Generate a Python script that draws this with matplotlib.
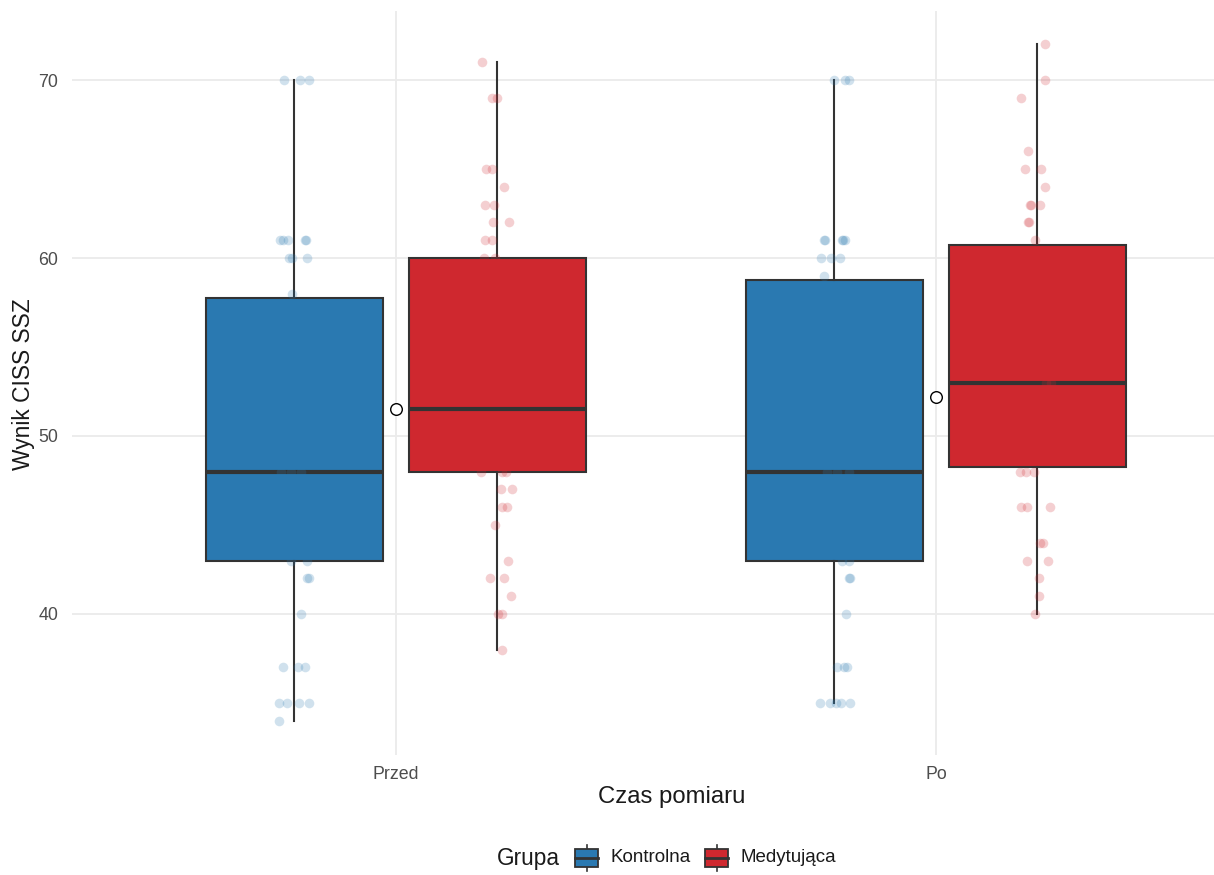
import matplotlib
matplotlib.use("Agg")
import matplotlib.pyplot as plt
from matplotlib.patches import Rectangle
from matplotlib.lines import Line2D

plt.rcParams['font.family'] = ['Liberation Sans', 'DejaVu Sans']

# ---- data ----
times = ["Przed", "Po"]
groups = ["Kontrolna", "Medytująca"]
colors = {"Kontrolna": "#2A79B1", "Medytująca": "#CF282F"}

# box statistics: (whislo, q1, median, q3, whishi)
box_stats = {
    ("Przed", "Kontrolna"): (34, 43, 48, 57.75, 70),
    ("Przed", "Medytująca"): (38, 48, 51.5, 60, 71),
    ("Po", "Kontrolna"): (35, 43, 48, 58.75, 70),
    ("Po", "Medytująca"): (40, 48.25, 53, 60.75, 72),
}
overall_means = [51.5, 52.2]

# jittered points: values and jitter offsets (px)
pts_przed_k = [70, 70, 70, 61, 61, 61, 61, 61, 60, 60, 60, 58, 48, 48, 48,
               43, 43, 42, 42, 40, 37, 37, 37, 35, 35, 35, 35, 34]
jit_przed_k = [-10.5, 5.5, 14.5, -14.5, -11.5, -6.5, 10.5, 11.5, -5.5, -2.5, 12.5, -2.5,
               -13.5, -3.5, 6.5, -3.5, 12.5, 12.5, 15, 7, -11.5, 4, 11, -15, -7, 4.5, 15, -15.5]

pts_przed_m = [71, 69, 69, 65, 65, 64, 63, 63, 62, 62, 61, 61, 60, 60,
               48, 48, 48, 47, 47, 46, 46, 45, 43, 42, 42, 41, 40, 40, 38]
jit_przed_m = [-15, -5.5, -0.5, -11, -5, 7, -12.5, -3, -4, 12, -12, -5, -13, -2,
               -16, 5, 8.5, 4, 15, 4.5, 10, -2.5, 11, -7, 7, 14, 1, 4.5, 5]

pts_po_k = [70, 70, 70, 61, 61, 61, 61, 61, 60, 60, 60, 59, 48, 48, 48,
            43, 43, 42, 42, 40, 37, 37, 37, 35, 35, 35, 35, 35]
jit_po_k = [0, 10.5, 15, -10, -9, 7.5, 9, 11, -13, -3.5, 5.5, -10, -7.5, 3, 15,
            8, 15, 16, 15, 12, 3, 10, 12.5, -14.5, -4, 1.5, 6.5, 16]

pts_po_m = [72, 70, 69, 66, 65, 65, 64, 63, 63, 63, 62, 62, 61, 53, 53,
            48, 48, 48, 46, 46, 46, 44, 44, 43, 43, 42, 41, 40]
jit_po_m = [8, 8, -16, -9.5, -12, 4, 7.5, -7.5, -6, 3, -9, -8.5, -2.5, 9, 14,
            -17.5, -11, -3.5, -16, -10, 13, 3, 5.5, -10.5, 10.5, 1.5, 2, -2.5]

points = {
    ("Przed", "Kontrolna"): (pts_przed_k, jit_przed_k),
    ("Przed", "Medytująca"): (pts_przed_m, jit_przed_m),
    ("Po", "Kontrolna"): (pts_po_k, jit_po_k),
    ("Po", "Medytująca"): (pts_po_m, jit_po_m),
}

# ---- layout ----
W, H = 1214, 875
fig = plt.figure(figsize=(W / 100, H / 100), dpi=100)
ax = fig.add_axes([72 / W, 1 - 754.6 / H, (1214 - 72) / W, (754.6 - 10.6) / H])

px_per_unit = 540.0
dodge = 101.5 / px_per_unit
box_w = 177 / px_per_unit

ax.set_xlim(0.4, 1 + (1214 - 396) / px_per_unit)
ax.set_ylim(32.1, 73.9)

for s in ax.spines.values():
    s.set_visible(False)
ax.set_yticks([40, 50, 60, 70])
ax.set_xticks([1, 2])
ax.set_xticklabels(times)
ax.tick_params(length=0, labelsize=12.8, colors="#4D4D4D")
ax.tick_params(axis="y", pad=10)
ax.tick_params(axis="x", pad=8)
ax.grid(True, color="#EBEBEB", linewidth=1.3)
ax.set_axisbelow(True)

# axis titles (panel extends past the right edge of the picture)
fig.text(672 / W, 1 - 797 / H, "Czas pomiaru", fontsize=17.2, color="#1A1A1A",
         ha="center", va="center")
fig.text(24 / W, 1 - 384 / H, "Wynik CISS SSZ", fontsize=16.4, color="#1A1A1A",
         ha="center", va="center", rotation=90)

for ti, t in enumerate(times):
    for gi, g in enumerate(groups):
        center = ti + 1 + (-dodge if gi == 0 else dodge)
        lo, q1, med, q3, hi = box_stats[(t, g)]
        ax.bxp([{"whislo": lo, "q1": q1, "med": med, "q3": q3, "whishi": hi, "fliers": []}],
               positions=[center], widths=box_w, patch_artist=True, showcaps=False,
               manage_ticks=False,
               boxprops=dict(facecolor=colors[g], edgecolor="#333333", linewidth=1.5),
               medianprops=dict(color="#333333", linewidth=3),
               whiskerprops=dict(color="#333333", linewidth=1.5))
        vals, jit = points[(t, g)]
        xs = [center + j / px_per_unit for j in jit]
        ax.scatter(xs, vals, s=48, color=colors[g], alpha=0.22, linewidths=0, zorder=4)

ax.scatter([1, 2], overall_means, s=70, facecolor="white", edgecolor="black",
           linewidths=1.0, zorder=6)

# ---- legend (bottom) ----
fig.text(497 / W, 1 - 858 / H, "Grupa", fontsize=16.3, color="#1A1A1A", va="center", ha="left")
for g, x0, tx in [("Kontrolna", 575, 610), ("Medytująca", 705, 741)]:
    kx, ky, kw, kh = x0 / W, 1 - 867 / H, 23 / W, 18 / H
    fig.add_artist(Line2D([kx + kw / 2, kx + kw / 2], [ky - 4 / H, ky + kh + 4 / H],
                          transform=fig.transFigure, color="#333333", linewidth=1.2,
                          zorder=1))
    fig.add_artist(Rectangle((kx, ky), kw, kh, transform=fig.transFigure,
                             facecolor=colors[g], edgecolor="#333333", linewidth=1.3,
                             zorder=2))
    fig.add_artist(Line2D([kx, kx + kw], [ky + kh / 2, ky + kh / 2],
                          transform=fig.transFigure, color="#333333", linewidth=2,
                          zorder=3))
    fig.text(tx / W, 1 - 858 / H, g, fontsize=13.5, color="#1A1A1A", va="center", ha="left")

fig.savefig("out.png", dpi=100)
